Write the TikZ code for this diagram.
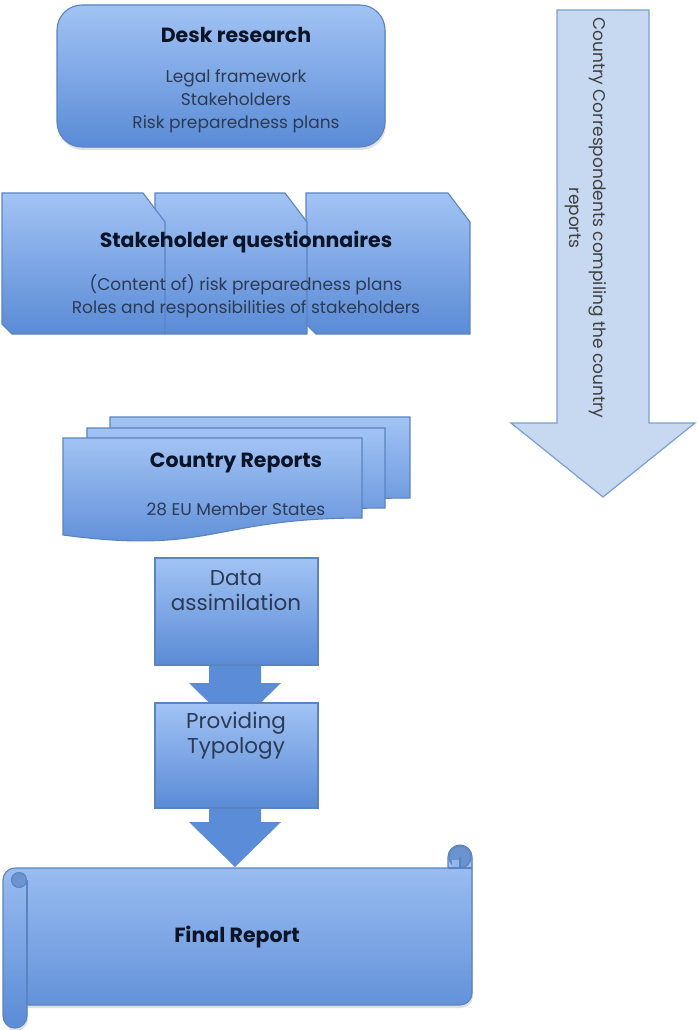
\documentclass[tikz,border=0pt]{standalone}
\usepackage{fontspec}
\setmainfont{Poppins}
\usetikzlibrary{shadows}

\definecolor{boxtop}{HTML}{A2C3F4}
\definecolor{boxbot}{HTML}{5A8BD6}
\definecolor{boxline}{HTML}{5A84C0}
\definecolor{arrowblue}{HTML}{5A8CD8}
\definecolor{arrowfill}{HTML}{C6D9F1}
\definecolor{arrowline}{HTML}{7A9ED2}
\definecolor{curlblue}{HTML}{6B93CF}
\definecolor{txtbody}{HTML}{2B3A55}
\definecolor{txttitle}{HTML}{0A1428}
\definecolor{txtgray}{HTML}{404040}

% Foglio con bordo inferiore ondulato (x1, alto, x2, basso a destra)
\newcommand{\foglio}[4]{%
  \draw[box] (#1,-#2) -- (#3,-#2) -- (#3,-#4)
    .. controls ({(#1+#3)/2},-#4) and ({(#1+#3)/2},{-#4-37}) .. (#1,{-#4-17}) -- cycle;}

% Scheda con angoli tagliati (x1, x2)
\newcommand{\scheda}[2]{%
  \draw[box] (#1,-193) -- ({#2-22},-193) -- (#2,-222) -- (#2,-334)
    -- ({#1+10},-334) -- (#1,-324) -- cycle;}

\begin{document}
\begin{tikzpicture}[x=1pt, y=1pt]
\tikzset{
  box/.style={top color=boxtop, bottom color=boxbot, draw=boxline, line width=1.1pt},
  ombra/.style={drop shadow={opacity=0.25, shadow xshift=1pt, shadow yshift=-3pt}},
  titolo/.style={font=\bfseries\fontsize{20.5}{24}\selectfont, text=txttitle},
  testo/.style={font=\fontsize{17}{23}\selectfont, text=txtbody, align=center},
  passo/.style={font=\fontsize{21.5}{25}\selectfont, text=txtbody, align=center},
  freccia/.style={fill=arrowblue, draw=none}
}
\useasboundingbox (0,0) rectangle (696,-1030);

% --- DESK RESEARCH ---
\draw[box, ombra, rounded corners=25pt] (57,-5) rectangle (385,-147);
\node[titolo] (desk) at (236,-35) {Desk research};
\node[testo] (deskdet) at (236,-101) {Legal framework\\Stakeholders\\Risk preparedness plans};

% --- QUESTIONARI (dal fondo al primo piano) ---
\scheda{306}{470}
\scheda{155}{307}
\scheda{2}{165}
\node[titolo] (quest) at (246,-242) {Stakeholder questionnaires};
\node[testo] (questdet) at (246,-296) {(Content of) risk preparedness plans\\Roles and responsibilities of stakeholders};

% --- COUNTRY REPORTS ---
\foglio{110}{417}{410}{498}
\foglio{87}{428}{385}{508}
\foglio{63}{438}{362}{518}
\node[titolo] (country) at (236,-463) {Country Reports};
\node[testo] (countrydet) at (236,-509) {28 EU Member States};

% --- FRECCE TRA I PASSI ---
\coordinate (A1) at (235,-660);
\coordinate (A2) at (235,-805);
\foreach \c/\h in {A1/23, A2/17} {
  \fill[freccia] ([xshift=-26pt]\c) -- ++(0,-\h) -- ++(-20,0) -- ++(46,-45)
    -- ++(46,45) -- ++(-20,0) -- ++(0,\h) -- cycle;
}

% --- PASSI ---
\draw[box] (155,-558) rectangle (318,-665);
\node[passo] (assim) at (236,-591) {Data\\assimilation};
\draw[box] (155,-703) rectangle (318,-808);
\node[passo] (typo) at (236,-736) {Providing\\Typology};

% --- FINAL REPORT (pergamena) ---
\draw[box, ombra] (3,-880) arc (180:90:12) -- (448,-868) -- (448,-857) arc (180:0:12)
  -- (472,-993) arc (0:-90:12) -- (27,-1005) -- (27,-1016) arc (0:-180:12) -- cycle;
\draw[boxline, line width=1.1pt] (27,-880) -- (27,-1005);
\draw[boxline, line width=1.1pt, fill=curlblue] (19,-880) circle (7.5);
\draw[boxline, line width=1.1pt] (26.5,-880) -- (26.5,-888);
\draw[boxline, line width=1.1pt, fill=curlblue] (460,-857) circle (11);
\fill[boxtop!80!boxbot] (452,-860) rectangle (460,-867);
\draw[boxline, line width=1.1pt] (460,-857) -- (460,-868);
\draw[boxline, line width=1.1pt] (448,-868) -- (472,-868);
\node[titolo] (final) at (237,-937) {Final Report};

% --- FRECCIA GRANDE (corrispondenti) ---
\draw[fill=arrowfill, draw=arrowline, line width=1.2pt]
  (557,-10) -- (649,-10) -- (649,-423) -- (695,-423) -- (603,-497)
  -- (511,-423) -- (557,-423) -- cycle;
\node[rotate=-90, font=\fontsize{17}{24}\selectfont, text=txtgray, align=center]
  (corr) at (586,-218) {Country Correspondents compiling the country\\reports};

\end{tikzpicture}
\end{document}
